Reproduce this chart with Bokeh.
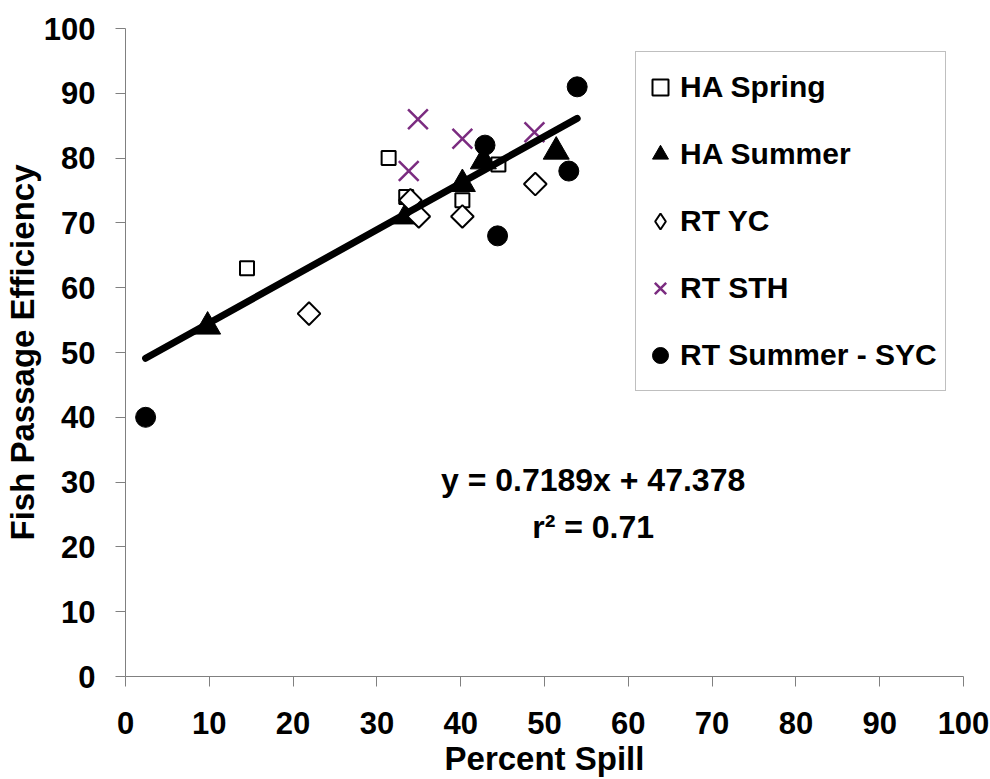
from bokeh.plotting import figure
from bokeh.models import Range1d, FixedTicker, Legend, LegendItem, Label
from bokeh.embed import file_html
from bokeh.resources import INLINE
import numpy as np

# Fish passage efficiency versus percent spill, by study group
ha_spring_x = [14.5, 31.4, 33.5, 40.2, 44.5]
ha_spring_y = [63, 80, 74, 73.5, 79]

ha_summer_x = [9.8, 33.5, 40.2, 42.7, 51.4]
ha_summer_y = [54, 71, 76, 79.5, 81]

rt_yc_x = [21.9, 34.0, 35.0, 40.2, 48.9]
rt_yc_y = [56, 73.5, 71, 71, 76]

rt_sth_x = [33.8, 34.9, 40.2, 48.8]
rt_sth_y = [78, 86, 83, 84]

rt_syc_x = [2.4, 42.9, 44.4, 52.9, 53.9]
rt_syc_y = [40, 82, 68, 78, 91]

# Linear fit reported on the chart
slope = 0.7189
intercept = 47.378
r_squared = 0.71

x_ticks = [0, 10, 20, 30, 40, 50, 60, 70, 80, 90, 100]
y_ticks = [0, 10, 20, 30, 40, 50, 60, 70, 80, 90, 100]

FONT = "Liberation Sans"
AXIS_GRAY = "#808080"
PURPLE = "#7B2C80"

p = figure(width=990, height=779, output_backend="svg", toolbar_location=None,
           x_range=Range1d(0, 100), y_range=Range1d(0, 100),
           min_border_left=123, min_border_right=27,
           min_border_top=28, min_border_bottom=102)
p.outline_line_color = None
p.xgrid.visible = False
p.ygrid.visible = False
p.background_fill_color = "white"
p.border_fill_color = "white"

for ax, ticks in ((p.xaxis[0], x_ticks), (p.yaxis[0], y_ticks)):
    ax.ticker = FixedTicker(ticks=ticks)
    ax.axis_line_color = AXIS_GRAY
    ax.major_tick_line_color = AXIS_GRAY
    ax.minor_tick_line_color = None
    ax.major_tick_in = 0
    ax.major_tick_out = 10
    ax.major_label_text_font = FONT
    ax.major_label_text_font_style = "bold"
    ax.major_label_text_font_size = "31px"
    ax.major_label_text_color = "black"
    ax.axis_label_text_font = FONT
    ax.axis_label_text_font_style = "bold"
    ax.axis_label_text_font_size = "33px"
    ax.axis_label_text_color = "black"

p.xaxis.axis_label = "Percent Spill"
p.yaxis.axis_label = "Fish Passage Efficiency"
p.xaxis.major_label_standoff = 25
p.xaxis.axis_label_standoff = 3
p.yaxis.major_label_standoff = 20
p.yaxis.axis_label_standoff = 0

r_spring = p.scatter(ha_spring_x, ha_spring_y, marker="square", size=14,
                     fill_color="white", line_color="black", line_width=2)
r_summer = p.scatter(ha_summer_x, ha_summer_y, marker="triangle", size=26,
                     fill_color="black", line_color="black", line_width=1)
# diamond key for the legend (legend keys are drawn unrotated); it sits
# entirely inside the rotated squares drawn over it
r_yc_key = p.scatter(rt_yc_x, rt_yc_y, marker="diamond", size=14,
                     fill_color="white", line_color="black", line_width=2)
r_yc = p.scatter(rt_yc_x, rt_yc_y, marker="square", angle=np.pi / 4, size=16,
                 fill_color="white", line_color="black", line_width=2)
r_sth = p.scatter(rt_sth_x, rt_sth_y, marker="x", size=28,
                  line_color=PURPLE, line_width=2.5)
r_syc = p.scatter(rt_syc_x, rt_syc_y, marker="circle", size=20,
                  fill_color="black", line_color="black")

# Trend line across the range of observed spill
all_x = ha_spring_x + ha_summer_x + rt_yc_x + rt_sth_x + rt_syc_x
fit_x = [min(all_x), max(all_x)]
fit_y = [slope * v + intercept for v in fit_x]
p.line(fit_x, fit_y, line_color="black", line_width=7, line_cap="round")

legend = Legend(items=[
    LegendItem(label="HA Spring", renderers=[r_spring]),
    LegendItem(label="HA Summer", renderers=[r_summer]),
    LegendItem(label="RT YC", renderers=[r_yc_key]),
    LegendItem(label="RT STH", renderers=[r_sth]),
    LegendItem(label="RT Summer - SYC", renderers=[r_syc]),
], location=(510, 285))
legend.label_text_font = FONT
legend.label_text_font_style = "bold"
legend.label_text_font_size = "30px"
legend.label_text_color = "black"
legend.label_height = 62
legend.label_width = 261
legend.glyph_height = 40
legend.glyph_width = 40
legend.label_standoff = 0
legend.spacing = 5
legend.padding = 4
legend.margin = 0
legend.border_line_color = AXIS_GRAY
legend.border_line_width = 1
legend.background_fill_color = "white"
legend.background_fill_alpha = 1
p.add_layout(legend, "center")

eq_text = f"y = {slope}x + {intercept}"
r2_text = f"r\u00b2 = {r_squared}"
for txt, ypos in ((eq_text, 30.4), (r2_text, 23.0)):
    p.add_layout(Label(x=55.8, y=ypos, text=txt, text_align="center",
                       text_baseline="middle", text_font=FONT,
                       text_font_style="bold", text_font_size="32px",
                       text_color="black"))

open("out.html", "w").write(file_html(p, INLINE))
